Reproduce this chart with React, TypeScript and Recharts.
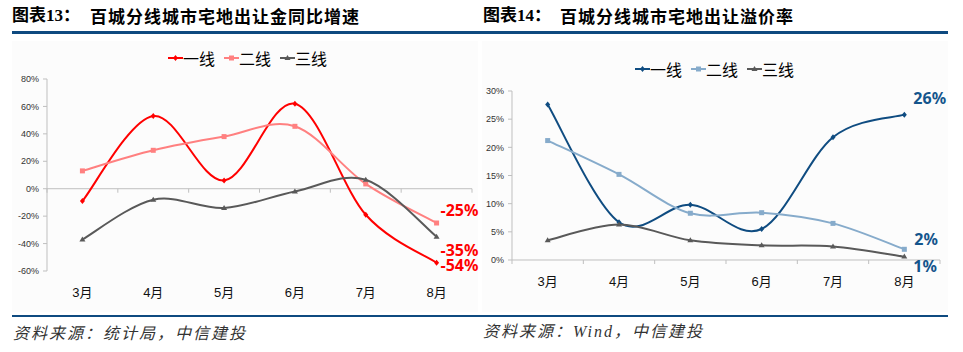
import { LineChart, Line, XAxis, YAxis, ReferenceLine, Legend } from "recharts";

// months on the x axis (shared by both charts)
const months = ["3月", "4月", "5月", "6月", "7月", "8月"];
const tierNames = ["一线", "二线", "三线"];

// 图表13: 宅地出让金同比增速 (%)
const landSaleTier1 = [-9, 53, 6, 62, -19, -54];
const landSaleTier2 = [13, 28, 38, 45.5, 3.5, -25];
const landSaleTier3 = [-37, -8, -14, -2, 6.5, -35];
const landSaleTicks = [-60, -40, -20, 0, 20, 40, 60, 80];

// 图表14: 宅地出让溢价率 (%)
const premiumTier1 = [27.6, 6.7, 9.8, 5.5, 21.8, 25.8];
const premiumTier2 = [21.2, 15.2, 8.3, 8.4, 6.5, 1.9];
const premiumTier3 = [3.5, 6.3, 3.5, 2.6, 2.4, 0.6];
const premiumTicks = [0, 5, 10, 15, 20, 25, 30];

const LATIN = '"Liberation Sans", Arial, "Noto Sans CJK SC", sans-serif';
const CJK = '"Noto Sans CJK SC", sans-serif';
const RULE = "#0E4A80";
const AXIS = "#BFBFBF";

// Excel-like smoothed line (Catmull-Rom through every point)
const excelSmooth = (context: any) => {
  let pts: number[][] = [];
  return {
    areaStart() {},
    areaEnd() {},
    lineStart() {
      pts = [];
    },
    lineEnd() {
      const n = pts.length;
      if (!n) return;
      context.moveTo(pts[0][0], pts[0][1]);
      for (let i = 0; i < n - 1; i++) {
        const p0 = pts[i === 0 ? 0 : i - 1];
        const p1 = pts[i];
        const p2 = pts[i + 1];
        const p3 = pts[i + 2 < n ? i + 2 : n - 1];
        context.bezierCurveTo(
          p1[0] + (p2[0] - p0[0]) / 6,
          p1[1] + (p2[1] - p0[1]) / 6,
          p2[0] - (p3[0] - p1[0]) / 6,
          p2[1] - (p3[1] - p1[1]) / 6,
          p2[0],
          p2[1]
        );
      }
    },
    point(x: number, y: number) {
      pts.push([+x, +y]);
    },
  };
};

const Marker = ({ cx, cy, shape, color }: any) => {
  if (cx == null || cy == null) return null;
  if (shape === "square")
    return <rect x={cx - 2.5} y={cy - 2.5} width={5} height={5} fill={color} />;
  if (shape === "triangle")
    return (
      <polygon
        points={`${cx},${cy - 3} ${cx + 3},${cy + 2} ${cx - 3},${cy + 2}`}
        fill={color}
      />
    );
  return (
    <polygon
      points={`${cx},${cy - 3} ${cx + 2.5},${cy} ${cx},${cy + 3} ${cx - 2.5},${cy}`}
      fill={color}
    />
  );
};

interface SeriesDef {
  key: string;
  name: string;
  color: string;
  shape: string;
  values: number[];
  labelColor: string;
  labelDx: number;
  labelDy: number;
}

interface TrendChartProps {
  series: SeriesDef[];
  ticks: number[];
  width: number;
  height: number;
  margin: { top: number; right: number; bottom: number; left: number };
  yAxisWidth: number;
  legendLeft: number;
  legendTop: number;
}

const TrendChart = ({
  series,
  ticks,
  width,
  height,
  margin,
  yAxisWidth,
  legendLeft,
  legendTop,
}: TrendChartProps) => {
  const data = months.map((m, i) => {
    const row: any = { month: m };
    series.forEach((s) => (row[s.key] = s.values[i]));
    return row;
  });

  const yMin = ticks[0];
  const yMax = ticks[ticks.length - 1];
  const xAxisHeight = 30;
  const plotLeft = margin.left + yAxisWidth;
  const plotWidth = width - plotLeft - margin.right;
  const plotTop = margin.top;
  const plotBottom = height - margin.bottom - xAxisHeight;
  const zeroY = plotTop + ((plotBottom - plotTop) * yMax) / (yMax - yMin);
  const band = plotWidth / months.length;

  // category labels sit under the plot, tick marks sit on the 0% line
  const MonthTick = (props: any) => {
    const { x, payload, index } = props;
    return (
      <g>
        <line x1={x - band / 2} x2={x - band / 2} y1={zeroY} y2={zeroY + 4} stroke={AXIS} />
        {index === months.length - 1 && (
          <line x1={x + band / 2} x2={x + band / 2} y1={zeroY} y2={zeroY + 4} stroke={AXIS} />
        )}
        <text
          x={x}
          y={plotBottom + 21}
          textAnchor="middle"
          dominantBaseline="central"
          fontSize={13}
          fontFamily={LATIN}
          fill="#111"
        >
          {payload.value}
        </text>
      </g>
    );
  };

  const renderLegend = () => (
    <div style={{ display: "flex", gap: 9, fontFamily: CJK, fontSize: 16, lineHeight: "20px", color: "#000" }}>
      {series.map((s) => (
        <div key={s.key} style={{ display: "flex", alignItems: "center" }}>
          <svg width={15} height={10}>
            <line x1={0} y1={5} x2={15} y2={5} stroke={s.color} strokeWidth={2} />
            <Marker cx={7.5} cy={5} shape={s.shape} color={s.color} />
          </svg>
          <span>{s.name}</span>
        </div>
      ))}
    </div>
  );

  return (
    <LineChart width={width} height={height} data={data} margin={margin}>
      <XAxis
        dataKey="month"
        scale="band"
        height={xAxisHeight}
        axisLine={false}
        tickLine={false}
        interval={0}
        tick={<MonthTick />}
      />
      <YAxis
        type="number"
        domain={[yMin, yMax]}
        ticks={ticks}
        interval={0}
        width={yAxisWidth}
        tickFormatter={(v) => `${v}%`}
        axisLine={{ stroke: AXIS }}
        tickLine={{ stroke: AXIS }}
        tickSize={4}
        tickMargin={4}
        tick={{ fontSize: 9, fill: "#333", fontFamily: LATIN }}
      />
      <ReferenceLine y={0} stroke={AXIS} ifOverflow="visible" />
      <Legend
        layout="horizontal"
        verticalAlign="middle"
        align="center"
        content={renderLegend}
        wrapperStyle={{ top: legendTop, left: legendLeft, width: "auto" }}
      />
      {series.map((s) => (
        <Line
          key={s.key}
          dataKey={s.key}
          name={s.name}
          type={excelSmooth as any}
          stroke={s.color}
          strokeWidth={2}
          isAnimationActive={false}
          activeDot={false}
          dot={(p: any) => (
            <g key={`${s.key}-${p.index}`}>
              <Marker cx={p.cx} cy={p.cy} shape={s.shape} color={s.color} />
              {p.index === months.length - 1 && (
                <text
                  x={p.cx + s.labelDx}
                  y={p.cy + s.labelDy}
                  dominantBaseline="central"
                  fontSize={16}
                  fontWeight={700}
                  fontFamily='"Noto Sans", "Open Sans", sans-serif'
                  fill={s.labelColor}
                >
                  {`${Math.round(p.value)}%`}
                </text>
              )}
            </g>
          )}
        />
      ))}
    </LineChart>
  );
};

const landSaleSeries: SeriesDef[] = [
  { key: "t1", name: tierNames[0], color: "#FF0000", shape: "diamond", values: landSaleTier1, labelColor: "#FF0000", labelDx: 4, labelDy: 2 },
  { key: "t2", name: tierNames[1], color: "#FF8080", shape: "square", values: landSaleTier2, labelColor: "#FF0000", labelDx: 4, labelDy: -13 },
  { key: "t3", name: tierNames[2], color: "#595959", shape: "triangle", values: landSaleTier3, labelColor: "#FF0000", labelDx: 4, labelDy: 13 },
];

const premiumSeries: SeriesDef[] = [
  { key: "t1", name: tierNames[0], color: "#0F4C81", shape: "diamond", values: premiumTier1, labelColor: "#14558C", labelDx: 9, labelDy: -17 },
  { key: "t2", name: tierNames[1], color: "#86ABCB", shape: "square", values: premiumTier2, labelColor: "#14558C", labelDx: 10, labelDy: -10 },
  { key: "t3", name: tierNames[2], color: "#595959", shape: "triangle", values: premiumTier3, labelColor: "#14558C", labelDx: 9, labelDy: 9 },
];

const App = () => {
  return (
    <div
      style={{
        position: "absolute",
        left: 0,
        top: 0,
        width: 963,
        height: 352,
        background: "#fff",
        fontFamily: CJK,
        overflow: "hidden",
      }}
    >
      {/* faint chart panels */}
      <div style={{ position: "absolute", left: 12, top: 41, width: 466, height: 271, background: "#FCFCFC" }} />
      <div style={{ position: "absolute", left: 482, top: 41, width: 466, height: 271, background: "#FCFCFC" }} />

      {/* titles */}
      <div style={{ position: "absolute", left: 12, top: 6, fontSize: 17, lineHeight: "20px", fontWeight: 700, fontFamily: '"Liberation Serif", "Noto Sans CJK SC", serif' }}>
        图表13：
      </div>
      <div style={{ position: "absolute", left: 90, top: 6, fontSize: 17, lineHeight: "20px", fontWeight: 700, letterSpacing: 1 }}>
        百城分线城市宅地出让金同比增速
      </div>
      <div style={{ position: "absolute", left: 483, top: 6, fontSize: 17, lineHeight: "20px", fontWeight: 700, fontFamily: '"Liberation Serif", "Noto Sans CJK SC", serif' }}>
        图表14：
      </div>
      <div style={{ position: "absolute", left: 560, top: 6, fontSize: 17, lineHeight: "20px", fontWeight: 700, letterSpacing: 1 }}>
        百城分线城市宅地出让溢价率
      </div>

      {/* rules */}
      <div style={{ position: "absolute", left: 12, top: 31, width: 936, height: 3, background: RULE }} />
      <div style={{ position: "absolute", left: 12, top: 315, width: 936, height: 2, background: RULE }} />

      <div style={{ position: "absolute", left: 0, top: 0 }}>
        <TrendChart
          series={landSaleSeries}
          ticks={landSaleTicks}
          width={480}
          height={310}
          margin={{ top: 79, right: 8, bottom: 9, left: 7 }}
          yAxisWidth={40}
          legendLeft={168}
          legendTop={48}
        />
      </div>
      <div style={{ position: "absolute", left: 480, top: 0 }}>
        <TrendChart
          series={premiumSeries}
          ticks={premiumTicks}
          width={483}
          height={310}
          margin={{ top: 91, right: 23, bottom: 20, left: 6 }}
          yAxisWidth={26}
          legendLeft={155}
          legendTop={59}
        />
      </div>

      {/* sources */}
      <div style={{ position: "absolute", left: 13, top: 322, fontSize: 16, lineHeight: "20px", fontStyle: "italic", color: "#333", letterSpacing: 2 }}>
        资料来源：统计局，中信建投
      </div>
      <div style={{ position: "absolute", left: 483, top: 322, fontSize: 16, lineHeight: "20px", fontStyle: "italic", color: "#333", letterSpacing: 2, fontFamily: '"Liberation Serif", "Noto Sans CJK SC", serif' }}>
        资料来源：Wind，中信建投
      </div>
    </div>
  );
};

export default App;
